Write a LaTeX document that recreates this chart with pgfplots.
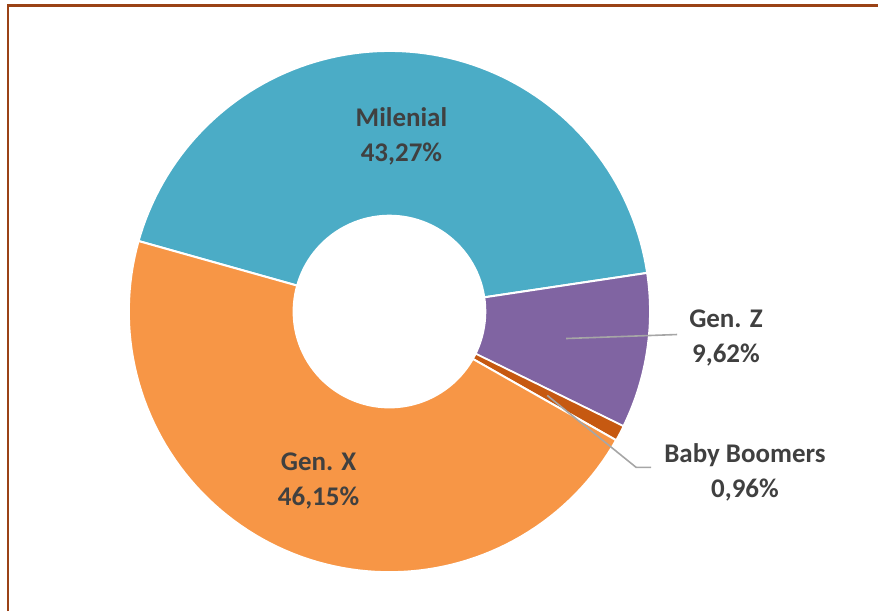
\documentclass[border=0pt]{standalone}
\usepackage{pgfplots}
\pgfplotsset{compat=1.18}
\usepackage{pgfplotstable}
\usepackage{fontspec}
\setmainfont{Carlito}

\definecolor{cMil}{HTML}{4BACC6}
\definecolor{cGenZ}{HTML}{8064A2}
\definecolor{cBB}{HTML}{C65911}
\definecolor{cGenX}{HTML}{F79646}
\definecolor{txt}{HTML}{404040}
\definecolor{frame}{HTML}{9A4216}
\definecolor{leader}{HTML}{A6A6A6}

% share of each generation, in %
\pgfplotstableread{
name value
Milenial 43.27
GenZ 9.62
BabyBoomers 0.96
GenX 46.15
}\gentable

\begin{document}
\begin{tikzpicture}
% angles of the slice borders (clockwise from the first one)
\pgfplotstablegetelem{0}{value}\of\gentable \let\vA\pgfplotsretval
\pgfplotstablegetelem{1}{value}\of\gentable \let\vB\pgfplotsretval
\pgfplotstablegetelem{2}{value}\of\gentable \let\vC\pgfplotsretval
\pgfplotstablegetelem{3}{value}\of\gentable \let\vD\pgfplotsretval
\pgfmathsetmacro\aA{164.3}
\pgfmathsetmacro\aB{\aA-3.6*\vA}
\pgfmathsetmacro\aC{\aB-3.6*\vB}
\pgfmathsetmacro\aD{\aC-3.6*\vC}
\pgfmathsetmacro\aE{\aD-3.6*\vD}
\begin{axis}[
    scale only axis,
    width=879pt, height=612pt,
    xmin=0, xmax=879, ymin=0, ymax=612,
    hide axis, clip=false,
    ]
    \path (axis cs:0,0) -- (axis cs:879,612);
    % slices
    \addplot[fill=cMil, draw=white, line width=2pt, domain=\aB:\aA, samples=90, variable=\t]
        ({390+261*cos(\t)},{300+261*sin(\t)}) -- (axis cs:390,300) -- cycle;
    \addplot[fill=cGenZ, draw=white, line width=2pt, domain=\aC:\aB, samples=40, variable=\t]
        ({390+261*cos(\t)},{300+261*sin(\t)}) -- (axis cs:390,300) -- cycle;
    \addplot[fill=cBB, draw=white, line width=1.6pt, domain=\aD:\aC, samples=10, variable=\t]
        ({390+261*cos(\t)},{300+261*sin(\t)}) -- (axis cs:390,300) -- cycle;
    \addplot[fill=cGenX, draw=white, line width=2pt, domain=\aE:\aD, samples=90, variable=\t]
        ({390+261*cos(\t)},{300+261*sin(\t)}) -- (axis cs:390,300) -- cycle;
    % hole
    \addplot[fill=white, draw=none, domain=0:360, samples=120, variable=\t]
        ({390+97*cos(\t)},{300+97*sin(\t)}) -- cycle;

    % leader lines
    \draw[leader, line width=1.6pt] (axis cs:567,273) -- (axis cs:678,277);
    \draw[leader, line width=1.6pt] (axis cs:548,216) -- (axis cs:637,144) -- (axis cs:652,144);

    % labels
    \begin{scope}[every node/.style={font=\fontsize{27}{35}\selectfont\bfseries, text=txt, align=center}]
    \node at (axis cs:402,475.5) {Milenial\\43,27\%};
    \node at (axis cs:319,130.5) {Gen. X\\46,15\%};
    \node at (axis cs:727,273.5) {Gen. Z\\9,62\%};
    \node at (axis cs:746,138.5) {Baby Boomers\\0,96\%};
    \end{scope}

    % frame
    \draw[frame, line width=2.5pt] (axis cs:8,0) -- (axis cs:8,606.5) -- (axis cs:879,606.5);
\end{axis}
\end{tikzpicture}
\end{document}
